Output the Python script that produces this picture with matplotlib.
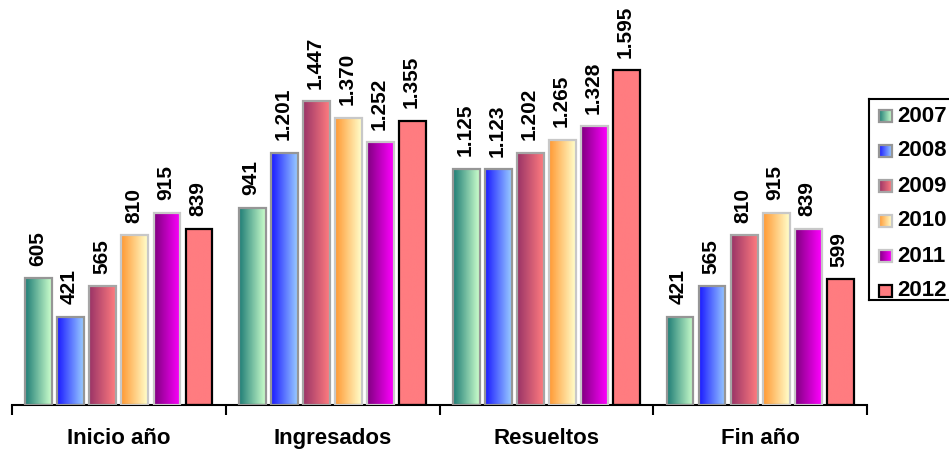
import numpy as np
import matplotlib
matplotlib.use("Agg")
import matplotlib.pyplot as plt
from matplotlib.colors import LinearSegmentedColormap
from matplotlib.patches import Rectangle

plt.rcParams['font.family'] = ['Liberation Sans', 'DejaVu Sans']
plt.rcParams['font.weight'] = 'bold'

categories = ["Inicio año", "Ingresados", "Resueltos", "Fin año"]
years = ["2007", "2008", "2009", "2010", "2011", "2012"]
values = {
    "2007": [605, 941, 1125, 421],
    "2008": [421, 1201, 1123, 565],
    "2009": [565, 1447, 1202, 810],
    "2010": [810, 1370, 1265, 915],
    "2011": [915, 1252, 1328, 839],
    "2012": [839, 1355, 1595, 599],
}

# left colour, right colour, edge colour
styles = {
    "2007": ("#1f7d76", "#ccffcc", "#969696"),
    "2008": ("#1a1aff", "#99ccff", "#969696"),
    "2009": ("#993366", "#ff7c80", "#a6a6a6"),
    "2010": ("#ff9933", "#ffffcc", "#c8c8c8"),
    "2011": ("#800080", "#ff00ff", "#c8c8c8"),
    "2012": ("#ff7c80", "#ff7c80", "#000000"),
}


def fmt(v):
    return f"{v:,}".replace(",", ".")


def gradient_box(ax, x0, y0, w, h, style, lw):
    c0, c1, ec = style
    cmap = LinearSegmentedColormap.from_list("g", [c0, c1])
    grad = np.linspace(0, 1, 64).reshape(1, -1)
    ax.imshow(grad, cmap=cmap, extent=(x0, x0 + w, y0, y0 + h),
              aspect="auto", interpolation="bilinear", zorder=2)
    ax.add_patch(Rectangle((x0, y0), w, h, facecolor="none",
                           edgecolor=ec, linewidth=lw, zorder=3))


fig = plt.figure(figsize=(9.49, 4.51), dpi=100)
ax = fig.add_axes([12 / 949, 46 / 451, 855 / 949, 405 / 451])

step = 0.15
width = 0.126
for k, yr in enumerate(years):
    for g, v in enumerate(values[yr]):
        x0 = g + 0.5 - 3 * step + k * step + (step - width) / 2
        gradient_box(ax, x0, 0, width, v, styles[yr], 1.6)
        ax.annotate(fmt(v), (x0 + width / 2, v), xytext=(-1, 9),
                    textcoords="offset points", rotation=90,
                    ha="center", va="bottom", fontsize=15,
                    fontweight="bold")

ax.set_xlim(0, 4)
ax.set_ylim(0, 1930)
for s in ["top", "right", "left"]:
    ax.spines[s].set_visible(False)
ax.spines["bottom"].set_linewidth(1.5)
ax.set_yticks([])
ax.set_xticks([0, 1, 2, 3, 4])
ax.set_xticklabels([])
ax.tick_params(axis="x", direction="out", length=7, width=1.5)
for g, c in enumerate(categories):
    ax.text(g + 0.5, -0.082, c, transform=ax.get_xaxis_transform(),
            ha="center", va="center", fontsize=16, fontweight="bold")

# legend drawn by hand so that the swatches keep their gradients;
# its right side runs off the figure as in the original
lax = fig.add_axes([869 / 949, (451 - 300) / 451, 120 / 949, 201 / 451])
lax.set_xlim(0, 120)
lax.set_ylim(201, 0)
lax.set_xticks([])
lax.set_yticks([])
for s in lax.spines.values():
    s.set_linewidth(1.5)
for k, yr in enumerate(years):
    yc = 17 + 35 * k
    gradient_box(lax, 10, yc - 6, 13, 12, styles[yr], 1.6)
    lax.text(28, yc, yr, ha="left", va="center", fontsize=16,
             fontweight="bold")

fig.savefig("out.png", dpi=100)
